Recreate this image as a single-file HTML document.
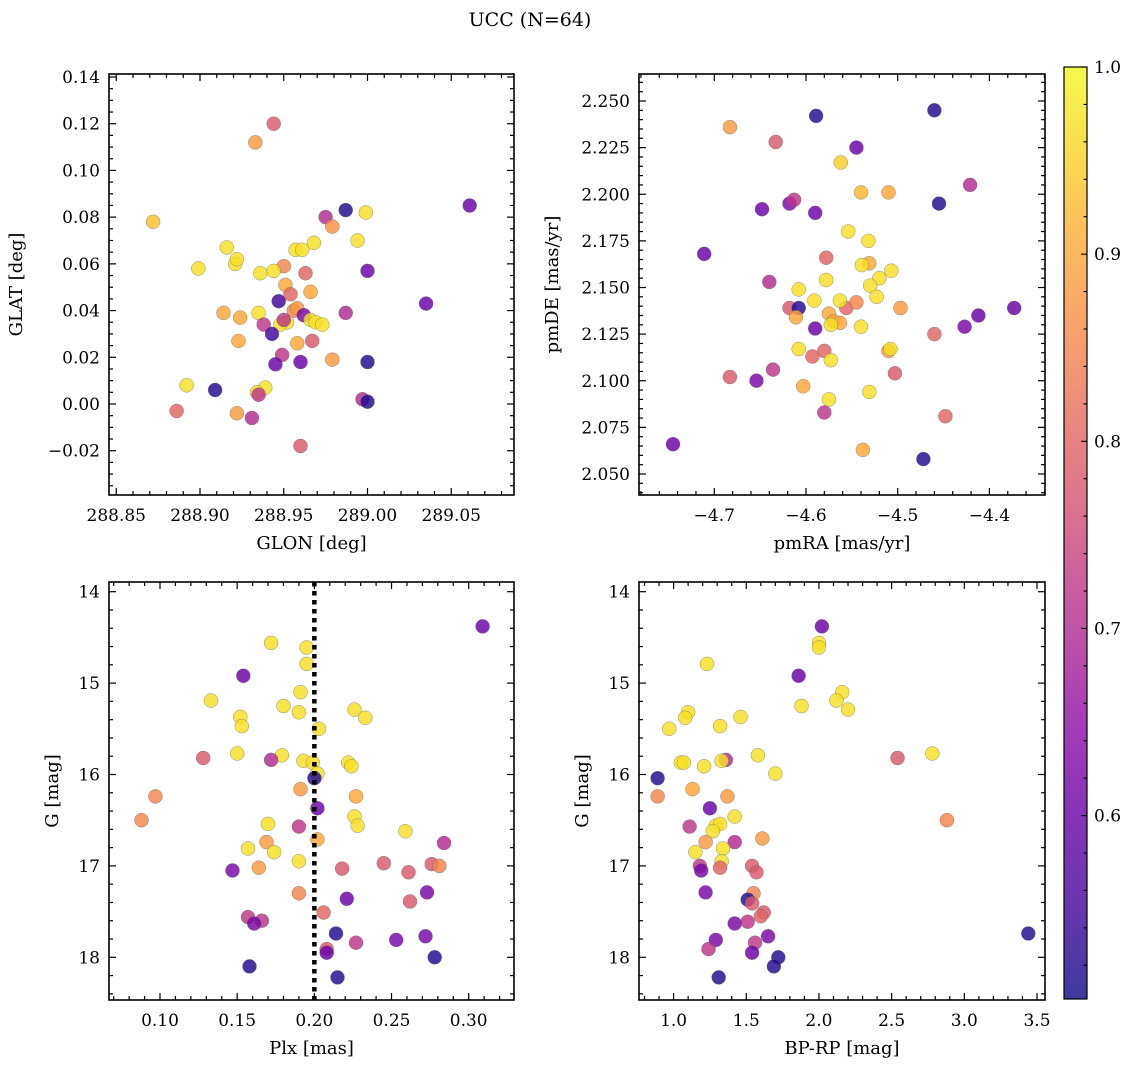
<!DOCTYPE html>
<html><head><meta charset="utf-8">
<style>
html,body{margin:0;padding:0;background:#fff;}
svg{display:block;font-family:"DejaVu Serif","Liberation Serif",serif;}
</style></head>
<body>
<svg id="fig" width="1136" height="1067" viewBox="0 0 1136 1067" xmlns="http://www.w3.org/2000/svg">
<defs>
<linearGradient id="plasmaGrad" x1="0" y1="1" x2="0" y2="0">
<stop offset="0" stop-color="#0d0887"/><stop offset="0.1" stop-color="#41049d"/><stop offset="0.2" stop-color="#6a00a8"/><stop offset="0.3" stop-color="#8f0da4"/><stop offset="0.4" stop-color="#b12a90"/><stop offset="0.5" stop-color="#cc4778"/><stop offset="0.6" stop-color="#e16462"/><stop offset="0.7" stop-color="#f2844b"/><stop offset="0.8" stop-color="#fca636"/><stop offset="0.9" stop-color="#fcce25"/><stop offset="1" stop-color="#f0f921"/>
</linearGradient>
</defs>
<text x="530" y="26" font-size="19" text-anchor="middle">UCC (N=64)</text>
</svg>
<script>
// ---- data ----
const p1Glon=[288.872,288.933,288.944,288.987,288.999,289.061,288.975,288.979,288.994,288.968,288.916,288.921,288.922,288.899,288.957,288.961,288.950,288.963,289.000,288.936,288.944,288.951,288.966,288.954,288.947,288.956,288.958,288.914,288.935,288.924,288.962,288.966,288.969,288.973,288.952,288.948,288.950,288.938,288.943,289.035,288.987,288.923,288.958,288.967,288.949,288.945,288.960,288.979,289.000,288.892,288.909,288.939,288.934,288.935,288.997,289.000,288.886,288.922,288.931,288.960];
const p1Glat=[0.078,0.112,0.120,0.083,0.082,0.085,0.080,0.076,0.070,0.069,0.067,0.060,0.062,0.058,0.066,0.066,0.059,0.056,0.057,0.056,0.057,0.051,0.048,0.047,0.044,0.040,0.041,0.039,0.039,0.037,0.038,0.036,0.035,0.034,0.035,0.034,0.036,0.034,0.030,0.043,0.039,0.027,0.026,0.027,0.021,0.017,0.018,0.019,0.018,0.008,0.006,0.007,0.005,0.004,0.002,0.001,-0.003,-0.004,-0.006,-0.018];
const p1Prob=[0.93,0.88,0.78,0.52,0.97,0.6,0.7,0.87,0.97,0.97,0.97,0.97,0.97,0.97,0.97,0.97,0.85,0.8,0.6,0.97,0.97,0.9,0.9,0.8,0.55,0.85,0.88,0.9,0.97,0.9,0.62,0.97,0.97,0.97,0.97,0.97,0.72,0.72,0.55,0.6,0.7,0.9,0.9,0.78,0.72,0.6,0.6,0.88,0.52,0.97,0.52,0.97,0.97,0.72,0.7,0.52,0.8,0.88,0.7,0.78];

const p2PmRA=[-4.683,-4.589,-4.460,-4.633,-4.545,-4.562,-4.540,-4.510,-4.455,-4.421,-4.648,-4.618,-4.613,-4.590,-4.554,-4.532,-4.711,-4.578,-4.578,-4.531,-4.539,-4.520,-4.507,-4.640,-4.608,-4.530,-4.523,-4.556,-4.545,-4.591,-4.563,-4.618,-4.608,-4.611,-4.575,-4.570,-4.563,-4.573,-4.540,-4.497,-4.373,-4.412,-4.427,-4.590,-4.460,-4.608,-4.580,-4.593,-4.573,-4.510,-4.508,-4.636,-4.683,-4.654,-4.603,-4.503,-4.531,-4.575,-4.580,-4.448,-4.745,-4.538,-4.472];
const p2PmDE=[2.236,2.242,2.245,2.228,2.225,2.217,2.201,2.201,2.195,2.205,2.192,2.195,2.197,2.190,2.180,2.175,2.168,2.166,2.154,2.163,2.162,2.155,2.159,2.153,2.149,2.151,2.145,2.139,2.142,2.143,2.143,2.139,2.139,2.134,2.136,2.132,2.131,2.130,2.129,2.139,2.139,2.135,2.129,2.128,2.125,2.117,2.116,2.113,2.111,2.116,2.117,2.106,2.102,2.100,2.097,2.104,2.094,2.090,2.083,2.081,2.066,2.063,2.058];
const p2Prob=[0.88,0.52,0.52,0.78,0.6,0.95,0.92,0.9,0.52,0.7,0.6,0.62,0.72,0.6,0.97,0.97,0.6,0.8,0.97,0.9,0.97,0.97,0.97,0.7,0.97,0.97,0.97,0.8,0.85,0.97,0.97,0.78,0.52,0.9,0.9,0.9,0.9,0.97,0.97,0.88,0.6,0.6,0.62,0.6,0.8,0.97,0.8,0.8,0.97,0.88,0.97,0.72,0.78,0.62,0.9,0.78,0.97,0.97,0.72,0.8,0.6,0.9,0.52];

const p3Plx=[0.309,0.172,0.195,0.195,0.154,0.133,0.191,0.180,0.226,0.233,0.152,0.153,0.190,0.203,0.128,0.150,0.179,0.172,0.193,0.199,0.202,0.200,0.222,0.224,0.097,0.191,0.227,0.202,0.088,0.226,0.228,0.259,0.170,0.190,0.169,0.174,0.157,0.202,0.284,0.190,0.164,0.147,0.218,0.245,0.261,0.276,0.281,0.190,0.273,0.221,0.262,0.206,0.157,0.166,0.161,0.214,0.227,0.253,0.272,0.208,0.208,0.278,0.158,0.215];
const p3G=[14.38,14.56,14.61,14.79,14.92,15.19,15.10,15.25,15.29,15.38,15.37,15.47,15.32,15.50,15.82,15.77,15.79,15.84,15.85,15.87,15.99,16.04,15.87,15.91,16.24,16.16,16.24,16.37,16.50,16.46,16.56,16.62,16.54,16.57,16.74,16.85,16.81,16.71,16.75,16.95,17.02,17.05,17.03,16.97,17.07,16.98,17.00,17.30,17.29,17.36,17.39,17.51,17.56,17.60,17.63,17.74,17.84,17.81,17.77,17.91,17.95,18.00,18.10,18.22];
const p3Prob=[0.6,0.97,0.97,0.97,0.6,0.97,0.97,0.97,0.97,0.97,0.97,0.97,0.97,0.97,0.78,0.97,0.97,0.7,0.97,0.97,0.97,0.52,0.97,0.97,0.85,0.88,0.9,0.6,0.85,0.97,0.97,0.97,0.97,0.72,0.88,0.97,0.97,0.9,0.7,0.97,0.88,0.62,0.78,0.78,0.78,0.78,0.85,0.85,0.62,0.6,0.78,0.8,0.72,0.72,0.62,0.52,0.72,0.62,0.62,0.78,0.6,0.52,0.52,0.52];

const p4BpRp=[2.02,2.00,2.00,1.23,1.86,2.16,1.88,2.12,2.20,1.10,1.08,1.46,1.32,0.97,2.54,2.78,1.58,1.36,1.33,1.05,1.07,1.21,1.70,0.89,0.89,1.37,1.13,1.25,2.88,1.42,1.29,1.32,1.27,1.11,1.61,1.42,1.22,1.15,1.34,1.33,1.32,1.18,1.19,1.54,1.57,1.22,1.55,1.51,1.54,1.62,1.60,1.51,1.42,1.65,1.56,1.29,1.24,3.44,1.54,1.72,1.69,1.31];
const p4G=[14.38,14.56,14.61,14.79,14.92,15.10,15.25,15.19,15.29,15.32,15.38,15.37,15.47,15.50,15.82,15.77,15.79,15.84,15.85,15.87,15.87,15.91,15.99,16.04,16.24,16.24,16.16,16.37,16.50,16.46,16.56,16.54,16.62,16.57,16.70,16.74,16.74,16.85,16.81,16.95,17.02,17.00,17.05,17.00,17.07,17.29,17.30,17.37,17.41,17.51,17.55,17.61,17.63,17.77,17.84,17.81,17.91,17.74,17.95,18.00,18.10,18.22];
const p4Prob=[0.6,0.97,0.97,0.97,0.6,0.97,0.97,0.97,0.97,0.97,0.97,0.97,0.97,0.97,0.78,0.97,0.97,0.7,0.97,0.97,0.97,0.97,0.97,0.52,0.85,0.88,0.9,0.6,0.85,0.97,0.97,0.97,0.97,0.72,0.88,0.7,0.88,0.97,0.97,0.97,0.8,0.72,0.62,0.78,0.78,0.62,0.85,0.52,0.78,0.78,0.8,0.72,0.62,0.62,0.72,0.62,0.72,0.52,0.6,0.52,0.52,0.52];

const plxLine=[0.2];
const cbTicks=[0.6,0.7,0.8,0.9,1.0];

// ---- helpers ----
const NS='http://www.w3.org/2000/svg';
const svg=document.getElementById('fig');
function mk(tag,attrs,parent){const e=document.createElementNS(NS,tag);for(const k in attrs)e.setAttribute(k,attrs[k]);(parent||svg).appendChild(e);return e;}
const stops=[[13,8,135],[65,4,157],[106,0,168],[143,13,164],[177,42,144],[204,71,120],[225,100,98],[242,132,75],[252,166,54],[252,206,37],[240,249,33]];
const VMIN=0.502,VMAX=1.0;
function plasma(p){let t=(p-VMIN)/(VMAX-VMIN);t=Math.max(0,Math.min(1,t))*10;const i=Math.min(9,Math.floor(t)),f=t-i;const a=stops[i],b=stops[i+1];return 'rgb('+a.map((v,k)=>Math.round(v+(b[k]-v)*f)).join(',')+')';}
function lin(d0,d1,r0,r1){return v=>r0+(v-d0)/(d1-d0)*(r1-r0);}
function inv(d0,d1,r0,r1){return p=>d0+(p-r0)/(r1-r0)*(d1-d0);}

function panel(cfg){
  const g=mk('g',{});
  
  
  const {x0,y0,x1,y1}=cfg.box;
  const xs=cfg.xs, ys=cfg.ys;
  const xinv=cfg.xinv, yinv=cfg.yinv;
  const pg=mk('g',{},g);
  
  
  for(let i=0;i<cfg.X.length;i++){
    const c=mk('circle',{cx:xs(cfg.X[i]).toFixed(1),cy:ys(cfg.Y[i]).toFixed(1),r:7,fill:plasma(cfg.P[i]),'fill-opacity':0.82,stroke:'#666','stroke-width':0.5,'stroke-opacity':0.7},pg);
    
    
  }
  if(cfg.extra)cfg.extra(g);
  const fr=mk('rect',{x:x0,y:y0,width:x1-x0,height:y1-y0,fill:'none',stroke:'#000','stroke-width':1.6},g);
  
  
  const xl=Math.min(xinv(x0),xinv(x1)),xh=Math.max(xinv(x0),xinv(x1));
  const yl=Math.min(yinv(y0),yinv(y1)),yh=Math.max(yinv(y0),yinv(y1));
  const tg=mk('g',{stroke:'#000','stroke-width':1.2},g);
  
  
  const lg=mk('g',{'font-size':17,fill:'#000'},g);
  
  
  for(let k=Math.ceil(xl/cfg.xmin-1e-6);k*cfg.xmin<=xh+1e-9;k++){
    const v=k*cfg.xmin,px=xs(v);const maj=Math.abs(v/cfg.xmaj-Math.round(v/cfg.xmaj))<1e-6;const L=maj?7:4;
    mk('line',{x1:px,y1:y1,x2:px,y2:y1-L},tg);mk('line',{x1:px,y1:y0,x2:px,y2:y0+L},tg);
    if(maj){const t=mk('text',{x:px,y:y1+26,'text-anchor':'middle'},lg);t.textContent=fmt(v,cfg.xdec);}
  }
  for(let k=Math.ceil(yl/cfg.ymin-1e-6);k*cfg.ymin<=yh+1e-9;k++){
    const v=k*cfg.ymin,py=ys(v);const maj=Math.abs(v/cfg.ymaj-Math.round(v/cfg.ymaj))<1e-6;const L=maj?7:4;
    mk('line',{x1:x0,y1:py,x2:x0+L,y2:py},tg);mk('line',{x1:x1,y1:py,x2:x1-L,y2:py},tg);
    if(maj){const t=mk('text',{x:x0-9,y:py+6,'text-anchor':'end'},lg);t.textContent=fmt(v,cfg.ydec);}
  }
  const xt=mk('text',{x:(x0+x1)/2,y:y1+54,'text-anchor':'middle','font-size':18},g);
  xt.textContent=cfg.xlabel;
  
  
  const yt=mk('text',{x:cfg.ylx,y:(y0+y1)/2,'text-anchor':'middle','font-size':18,transform:'rotate(-90 '+cfg.ylx+' '+((y0+y1)/2)+')'},g);
  yt.textContent=cfg.ylabel;
  
  
}
function fmt(v,d){let s=Math.abs(v)<1e-9?(0).toFixed(d):v.toFixed(d);return s.replace('-','\u2212');}

// panel 1
{const box={x0:109,y0:74,x1:514,y1:495};
 const xs=lin(288.90,289.00,200,367.5), ys=lin(0,0.14,404,77);
 panel({name:'glon-glat-panel',box,xs,ys,xinv:inv(288.90,289.00,200,367.5),yinv:inv(0,0.14,404,77),
  X:p1Glon,Y:p1Glat,P:p1Prob,xmaj:0.05,xmin:0.01,ymaj:0.02,ymin:0.005,xdec:2,ydec:2,
  xlabel:'GLON [deg]',ylabel:'GLAT [deg]',ylx:22});}
// panel 2
{const box={x0:639,y0:74,x1:1045,y1:495};
 const xs=lin(-4.7,-4.6,714.3,806), ys=lin(2.05,2.25,474,101);
 panel({name:'pm-panel',box,xs,ys,xinv:inv(-4.7,-4.6,714.3,806),yinv:inv(2.05,2.25,474,101),
  X:p2PmRA,Y:p2PmDE,P:p2Prob,xmaj:0.1,xmin:0.02,ymaj:0.025,ymin:0.005,xdec:1,ydec:3,
  xlabel:'pmRA [mas/yr]',ylabel:'pmDE [mas/yr]',ylx:558});}
// panel 3
{const box={x0:109,y0:582,x1:514,y1:1000};
 const xs=lin(0.10,0.30,160,468.7), ys=lin(14,18,591.7,957.3);
 panel({name:'plx-g-panel',box,xs,ys,xinv:inv(0.10,0.30,160,468.7),yinv:inv(14,18,591.7,957.3),
  X:p3Plx,Y:p3G,P:p3Prob,xmaj:0.05,xmin:0.01,ymaj:1,ymin:0.2,xdec:2,ydec:0,
  xlabel:'Plx [mas]',ylabel:'G [mag]',ylx:58,
  extra:g=>{plxLine.forEach(v=>{const l=mk('line',{x1:xs(v),y1:582,x2:xs(v),y2:1000,stroke:'#000','stroke-width':4.5,'stroke-dasharray':'4.5 4.5'},g);
    
    });}});}
// panel 4
{const box={x0:639,y0:582,x1:1045,y1:1000};
 const xs=lin(1.0,3.5,673.6,1037), ys=lin(14,18,591.7,957.3);
 panel({name:'cmd-panel',box,xs,ys,xinv:inv(1.0,3.5,673.6,1037),yinv:inv(14,18,591.7,957.3),
  X:p4BpRp,Y:p4G,P:p4Prob,xmaj:0.5,xmin:0.1,ymaj:1,ymin:0.2,xdec:1,ydec:0,
  xlabel:'BP-RP [mag]',ylabel:'G [mag]',ylx:588});}
// colorbar
{const g=mk('g',{});
 
 
 const cy=lin(VMIN,VMAX,999,67);
 mk('rect',{x:1064,y:67,width:23,height:932,fill:'url(#plasmaGrad)','fill-opacity':0.8},g);
 mk('rect',{x:1064,y:67,width:23,height:932,fill:'none',stroke:'#000','stroke-width':1.2},g);
 for(let k=Math.ceil(VMIN/0.02);k*0.02<=VMAX+1e-9;k++){const v=k*0.02;const maj=Math.abs(v*10-Math.round(v*10))<1e-6;
   mk('line',{x1:1087,y1:cy(v),x2:1087-(maj?6:3.5),y2:cy(v),stroke:'#000','stroke-width':1.1},g);}
 cbTicks.forEach(v=>{const t=mk('text',{x:1094,y:cy(v)+6,'font-size':17},g);t.textContent=v.toFixed(1);
   
   });
}
</script>
</body></html>
